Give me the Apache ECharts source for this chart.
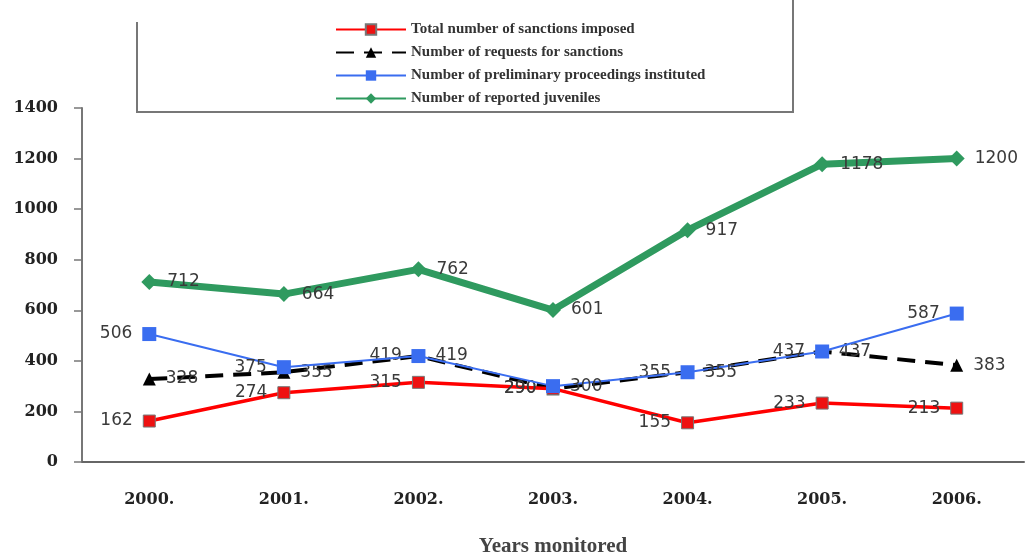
<!DOCTYPE html>
<html><head><meta charset="utf-8">
<script src="https://cdn.jsdelivr.net/npm/echarts@6/dist/echarts.min.js"></script>
<style>html,body{margin:0;padding:0;background:#fff}#c{width:1026px;height:556px}</style>
</head><body><div id="c"></div>
<script>
const categories = ['2000.', '2001.', '2002.', '2003.', '2004.', '2005.', '2006.'];
const sanctionsImposed = [162, 274, 315, 290, 155, 233, 213];
const requestsForSanctions = [328, 355, 419, 290, 355, 437, 383];
const preliminaryProceedings = [506, 375, 419, 300, 355, 437, 587];
const reportedJuveniles = [712, 664, 762, 601, 917, 1178, 1200];
const yTicks = [0, 200, 400, 600, 800, 1000, 1200, 1400];

const redPos = ['left','left','left','left','left','left','left'];
const blackPos = ['right','right','left','left','left','right','right'];
const bluePos = ['left','left','right','right','right','left','left'];
const greenPos = ['right','right','right','right','right','right','right'];

function withPos(vals, pos) {
  return vals.map((v, i) => ({ value: v, label: { position: pos[i] } }));
}
const labelStyle = { show: true, fontFamily: 'DejaVu Sans', fontSize: 17, color: '#3a3a3a', distance: 10 };

const chart = echarts.init(document.getElementById('c'));
chart.setOption({
  animation: false,
  backgroundColor: '#fff',
  grid: { left: 82, right: 2, top: 108, bottom: 94, outerBoundsMode: 'none', containLabel: false },
  legend: {
    orient: 'vertical', left: 330, top: 17, itemWidth: 70, itemHeight: 13, itemGap: 8,
    textStyle: { fontFamily: 'Liberation Serif', fontWeight: 'bold', fontSize: 15, color: '#333' },
    data: ['Total number of sanctions imposed', 'Number of requests for sanctions',
           'Number of preliminary proceedings instituted', 'Number of reported juveniles']
  },
  graphic: [
    { type: 'polyline', shape: { points: [[137, 22], [137, 112], [793, 112], [793, 0]] },
      style: { stroke: '#777', lineWidth: 2, fill: null } }
  ],
  xAxis: {
    type: 'category', data: categories, boundaryGap: true,
    axisLine: { lineStyle: { color: '#666', width: 2 } },
    axisTick: { length: 8, lineStyle: { color: '#666', width: 1.5 } },
    axisLabel: { margin: 30, fontFamily: 'DejaVu Serif', fontWeight: 'bold', fontSize: 16, color: '#222' },
    name: 'Years monitored', nameLocation: 'middle', nameGap: 74,
    nameTextStyle: { fontFamily: 'Liberation Serif', fontWeight: 'bold', fontSize: 21, color: '#444' }
  },
  yAxis: {
    type: 'value', min: yTicks[0], max: yTicks[yTicks.length - 1], interval: 200,
    splitLine: { show: false },
    axisLine: { show: true, lineStyle: { color: '#777', width: 2 } },
    axisTick: { show: true, length: 8, lineStyle: { color: '#777', width: 1.5 } },
    axisLabel: { margin: 24, fontFamily: 'DejaVu Serif', fontWeight: 'bold', fontSize: 16, color: '#222',
      formatter: v => String(v) }
  },
  series: [
    { name: 'Number of reported juveniles', type: 'line', data: withPos(reportedJuveniles, greenPos),
      color: '#2f9a5f', lineStyle: { width: 7, color: '#2f9a5f' }, symbol: 'diamond', symbolSize: 16,
      itemStyle: { color: '#2f9a5f' }, label: labelStyle, z: 2 },
    { name: 'Number of preliminary proceedings instituted', type: 'line', data: withPos(preliminaryProceedings, bluePos),
      color: '#3a6df0', lineStyle: { width: 2, color: '#3a6df0' }, symbol: 'rect', symbolSize: 14,
      itemStyle: { color: '#3a6df0' }, label: labelStyle, z: 4 },
    { name: 'Number of requests for sanctions', type: 'line', data: withPos(requestsForSanctions, blackPos),
      color: '#000', lineStyle: { width: 4, color: '#000', type: [18, 10] }, symbol: 'triangle', symbolSize: 13,
      itemStyle: { color: '#000' }, label: labelStyle, z: 3 },
    { name: 'Total number of sanctions imposed', type: 'line', data: withPos(sanctionsImposed, redPos),
      color: '#ff0000', lineStyle: { width: 3.5, color: '#ff0000' }, symbol: 'rect', symbolSize: 12,
      itemStyle: { color: '#ee1111', borderColor: '#777', borderWidth: 1 }, label: labelStyle, z: 3 }
  ]
});
</script></body></html>
